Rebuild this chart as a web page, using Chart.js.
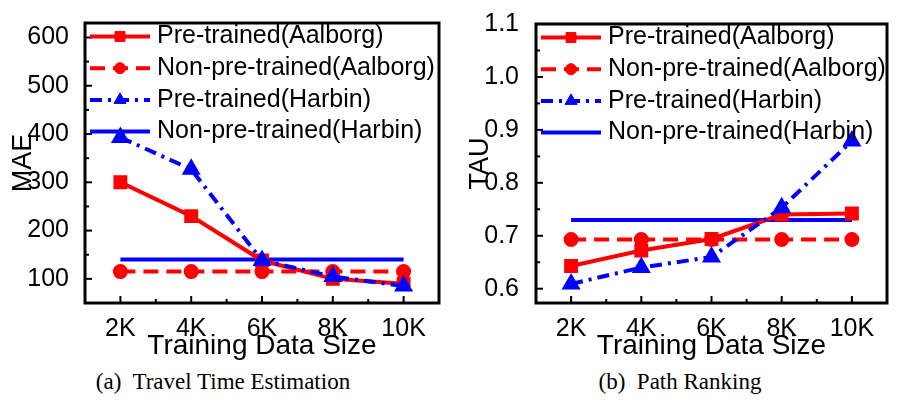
<!DOCTYPE html>
<html>
<head>
<meta charset="utf-8">
<script src="https://cdn.jsdelivr.net/npm/chart.js@4.4.1/dist/chart.umd.min.js"></script>
<style>
  body { margin: 0; background: #fff; width: 898px; height: 402px; position: relative; overflow: hidden; }
  .panel { position: absolute; top: 0; }
  .caption { position: absolute; top: 369px; font-family: "Liberation Serif", serif; font-size: 23px; line-height: 26px; white-space: pre; transform: translateX(-50%); }
</style>
</head>
<body>
<div class="panel" style="left:0"><canvas id="maeChart" width="450" height="365"></canvas></div>
<div class="panel" style="left:450px"><canvas id="tauChart" width="448" height="365"></canvas></div>
<div class="caption" style="left:223px">(a)  Travel Time Estimation</div>
<div class="caption" style="left:680px">(b)  Path Ranking</div>
<script>
const sizes = ['2K', '4K', '6K', '8K', '10K'];

const seriesNames = ['Pre-trained(Aalborg)', 'Non-pre-trained(Aalborg)', 'Pre-trained(Harbin)', 'Non-pre-trained(Harbin)'];

// Travel time estimation (MAE)
const preAalborgMAE = [300, 230, 138, 100, 90];
const nonAalborgMAE = [115, 115, 115, 115, 115];
const preHarbinMAE = [393, 327, 138, 105, 85];
const nonHarbinMAE = [140, 140, 140, 140, 140];
const maeTicks = [100, 200, 300, 400, 500, 600];

// Path ranking (TAU)
const preAalborgTAU = [0.643, 0.672, 0.694, 0.740, 0.742];
const nonAalborgTAU = [0.693, 0.693, 0.693, 0.693, 0.693];
const preHarbinTAU = [0.609, 0.640, 0.660, 0.753, 0.879];
const nonHarbinTAU = [0.730, 0.730, 0.730, 0.730, 0.730];
const tauTicks = [0.6, 0.7, 0.8, 0.9, 1.0, 1.1];

const RED = '#ff0000';
const BLUE = '#0000ff';
const FONT = '"Liberation Sans", Arial, sans-serif';

// legend drawn inside the plot box, top-left
const boxLegend = {
    id: 'boxLegend',
    afterDraw(chart) {
        const { ctx, chartArea: a } = chart;
        chart.data.datasets.forEach((ds, i) => {
            const y = a.top + 13.5 + i * 31.7;
            const x0 = a.left + 5, x1 = a.left + 65;
            ctx.save();
            ctx.strokeStyle = ds.borderColor;
            ctx.lineWidth = ds.borderWidth;
            ctx.setLineDash(ds.borderDash || []);
            ctx.beginPath();
            ctx.moveTo(x0, y);
            ctx.lineTo(x1, y);
            ctx.stroke();
            ctx.setLineDash([]);
            if (ds.pointRadius > 0) {
                ctx.fillStyle = ds.borderColor;
                ctx.lineWidth = 1;
                Chart.helpers.drawPoint(ctx, { pointStyle: ds.pointStyle, radius: ds.pointRadius, borderWidth: 1, rotation: 0 }, (x0 + x1) / 2, y);
            }
            ctx.fillStyle = '#000';
            ctx.font = '25px ' + FONT;
            ctx.textBaseline = 'middle';
            ctx.fillText(ds.label, x1 + 7, y);
            ctx.restore();
        });
    }
};

// black frame with inward major/minor ticks
const frameTicks = {
    id: 'frameTicks',
    afterDraw(chart) {
        const { ctx, chartArea: a, scales: { x, y } } = chart;
        ctx.save();
        ctx.strokeStyle = '#000';
        ctx.lineWidth = 2;
        const seg = (x1, y1, x2, y2) => { ctx.beginPath(); ctx.moveTo(x1, y1); ctx.lineTo(x2, y2); ctx.stroke(); };
        for (let i = 0; i < x.ticks.length; i++) {
            const px = x.getPixelForTick(i);
            seg(px, a.bottom, px, a.bottom - 7);
            if (i < x.ticks.length - 1) {
                const mid = (px + x.getPixelForTick(i + 1)) / 2;
                seg(mid, a.bottom, mid, a.bottom - 4);
            }
        }
        for (let i = 0; i < y.ticks.length; i++) {
            const py = y.getPixelForValue(y.ticks[i].value);
            seg(a.left, py, a.left + 7, py);
            if (i < y.ticks.length - 1) {
                const mid = (py + y.getPixelForValue(y.ticks[i + 1].value)) / 2;
                seg(a.left, mid, a.left + 4, mid);
            }
        }
        ctx.lineWidth = 3;
        ctx.strokeRect(a.left, a.top, a.width, a.height);
        ctx.restore();
    }
};

function makeDatasets(pre1, non1, pre2, non2) {
    return [
        { label: seriesNames[0], data: pre1, borderColor: RED, backgroundColor: RED, borderWidth: 4,
          pointStyle: 'rect', pointRadius: 7, order: 1 },
        { label: seriesNames[1], data: non1, borderColor: RED, backgroundColor: RED, borderWidth: 4,
          borderDash: [15, 8], pointStyle: 'circle', pointRadius: 5.5, order: 2 },
        { label: seriesNames[2], data: pre2, borderColor: BLUE, backgroundColor: BLUE, borderWidth: 4,
          borderDash: [12, 6, 3, 6], pointStyle: 'triangle', pointRadius: 7, order: 0 },
        { label: seriesNames[3], data: non2, borderColor: BLUE, backgroundColor: BLUE, borderWidth: 4,
          pointRadius: 0, order: 3 },
    ];
}

function createChart(canvasId, datasets, cfg) {
    const ctx = document.getElementById(canvasId).getContext('2d');
    return new Chart(ctx, {
        type: 'line',
        data: { labels: sizes, datasets: datasets },
        options: {
            responsive: false,
            animation: false,
            devicePixelRatio: 1,
            layout: { padding: { top: cfg.top, right: cfg.right, left: 0, bottom: 0 } },
            plugins: { legend: { display: false }, tooltip: { enabled: false } },
            elements: { line: { tension: 0 }, point: { borderWidth: 1 } },
            scales: {
                x: {
                    type: 'category',
                    offset: true,
                    grid: { display: false },
                    border: { display: false },
                    ticks: { color: '#000', font: { family: FONT, size: 25 }, padding: 3, maxRotation: 0 },
                    title: { display: true, text: 'Training Data Size', color: '#000',
                             font: { family: FONT, size: 28 }, padding: { top: 0, bottom: 2 } },
                    afterFit: s => { s.height = 62; },
                },
                y: {
                    min: cfg.min,
                    max: cfg.max,
                    grid: { display: false },
                    border: { display: false },
                    afterBuildTicks: s => { s.ticks = cfg.ticks.map(v => ({ value: v })); },
                    ticks: { color: '#000', font: { family: FONT, size: 25 }, padding: cfg.tickPad,
                             callback: cfg.fmt },
                    title: { display: true, text: cfg.title, color: '#000',
                             font: { family: FONT, size: 27 }, padding: { top: cfg.titlePad, bottom: 0 } },
                    afterFit: s => { s.width = cfg.yWidth; },
                },
            },
        },
        plugins: [frameTicks, boxLegend],
    });
}

createChart('maeChart', makeDatasets(preAalborgMAE, nonAalborgMAE, preHarbinMAE, nonHarbinMAE), {
    top: 16, right: 7, min: 50, max: 630, ticks: maeTicks, title: 'MAE',
    yWidth: 85, tickPad: 8, titlePad: 7, fmt: v => String(v),
});

createChart('tauChart', makeDatasets(preAalborgTAU, nonAalborgTAU, preHarbinTAU, nonHarbinTAU), {
    top: 12, right: 3, min: 0.573, max: 1.1, ticks: tauTicks, title: 'TAU',
    yWidth: 86, tickPad: 9, titlePad: 14, fmt: v => v.toFixed(1),
});
</script>
</body>
</html>
